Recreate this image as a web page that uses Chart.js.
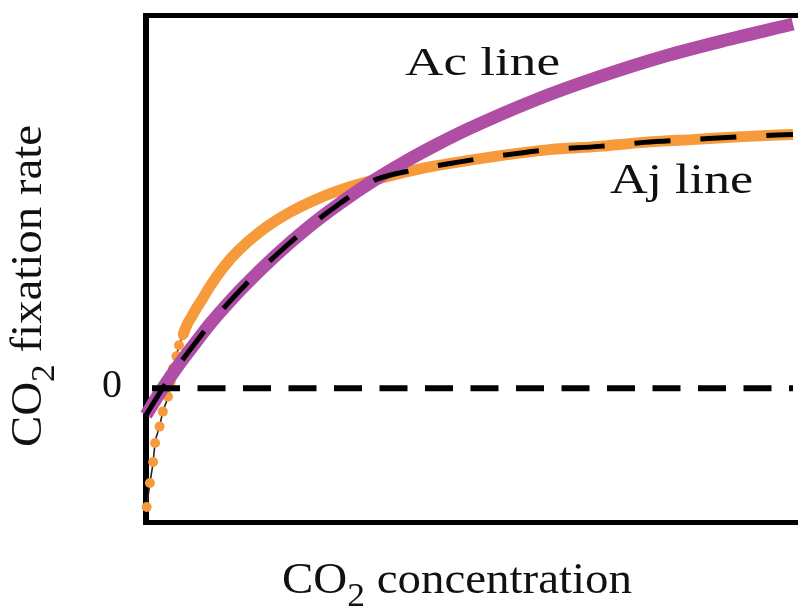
<!DOCTYPE html>
<html>
<head>
<meta charset="utf-8">
<script src="https://cdn.jsdelivr.net/npm/chart.js@4.4.1/dist/chart.umd.min.js"></script>
<style>
  html, body { margin: 0; padding: 0; background: #fff; }
  #chart { display: block; }
</style>
</head>
<body>
<canvas id="chart" width="798" height="608"></canvas>
<script>
// Ac line (Rubisco limited)
const acX = [0, 2, 4, 6, 8, 10, 12, 15, 20, 25, 30, 35, 40, 45, 50, 60, 70, 80, 90, 100];
const acY = [-5.4, -1.2, 2.7, 6.3, 9.7, 13.0, 16.0, 20.2, 26.5, 32.1, 37.0, 41.4, 45.3, 48.8, 52.0, 57.6, 62.3, 66.4, 69.8, 72.9];

// Aj line (RuBP regeneration limited), first points are the separate dots
const ajX = [0.1, 0.6, 1.1, 1.4, 2.1, 2.6, 3.4, 3.8, 4.2, 4.7, 5.1, 5.7, 6.3, 7.1, 7.8, 8.7,
             9.8, 12.1, 14.4, 17.5, 22.1, 26.7, 31.3, 35.6, 42, 48, 54, 62, 70, 77, 85, 93, 100];
const ajY = [-23.8, -19.0, -14.8, -11.0, -7.7, -4.7, -1.7, 1.2, 4.0, 6.4, 8.6, 10.6, 12.6, 14.4, 16.0, 17.8,
             20.2, 24.4, 27.7, 31.2, 35.1, 38.0, 40.2, 41.8, 43.8, 45.2, 46.4, 47.7, 48.4, 49.2, 49.8, 50.4, 50.8];
const dotCount = 16;     // Aj points drawn as single dots
const bandFrom = 11;     // from this point on the dots run together into a band
const crossX = 35.6;     // where Ac and Aj meet

const xRange = [0, 100];
const yRange = [-26.8, 74.7];
const yTicks = [0];

const purple = '#b04ea6';
const orange = '#f69a3b';

const pts = (xs, ys) => xs.map((x, i) => ({ x: x, y: ys[i] }));

// the dashed line follows the lower of the two curves
const minLine = pts(acX, acY).filter(p => p.x < crossX)
  .concat(pts(ajX, ajY).filter(p => p.x >= crossX));

const serif = '"Liberation Serif", "DejaVu Serif", serif';

function stretchText(ctx, str, x, y, size, width) {
  ctx.font = size + 'px ' + serif;
  const w = ctx.measureText(str).width;
  ctx.save();
  ctx.translate(x, y);
  ctx.scale(width / w, 1);
  ctx.fillText(str, 0, 0);
  ctx.restore();
}

// "CO2 ..." with a lowered 2, drawn from (0,0) on the baseline, stretched to width
function co2Label(ctx, rest, width) {
  const big = '45px ' + serif, small = '34px ' + serif;
  ctx.font = big;
  const wCO = ctx.measureText('CO').width;
  const wRest = ctx.measureText(rest).width;
  ctx.font = small;
  const w2 = ctx.measureText('2').width;
  const sx = width / (wCO + w2 + wRest);
  ctx.save();
  ctx.scale(sx, 1);
  ctx.font = big;
  ctx.fillText('CO', 0, 0);
  ctx.font = small;
  ctx.fillText('2', wCO, 13);
  ctx.font = big;
  ctx.fillText(rest, wCO + w2, 0);
  ctx.restore();
}

const framePlugin = {
  id: 'frame',
  beforeDatasetsDraw(chart) {
    const { ctx, chartArea: a } = chart;
    ctx.save();
    ctx.strokeStyle = '#000';
    ctx.lineWidth = 5;
    ctx.beginPath();
    ctx.moveTo(a.left - 3, a.top + 0.5);
    ctx.lineTo(a.right + 5, a.top + 0.5);
    ctx.moveTo(a.left - 3, a.bottom + 0.5);
    ctx.lineTo(a.right + 5, a.bottom + 0.5);
    ctx.stroke();
    ctx.lineWidth = 6;
    ctx.beginPath();
    ctx.moveTo(a.left, a.top - 2);
    ctx.lineTo(a.left, a.bottom + 3);
    ctx.stroke();
    ctx.restore();
  },
  afterDraw(chart) {
    const { ctx, scales } = chart;
    ctx.save();
    ctx.fillStyle = '#111';
    ctx.textBaseline = 'alphabetic';
    ctx.textAlign = 'left';

    stretchText(ctx, 'Ac line', 405, 75, 41, 155);
    stretchText(ctx, 'Aj line', 610, 193, 42, 143);

    // y tick label
    ctx.font = '40px ' + serif;
    ctx.textAlign = 'right';
    yTicks.forEach(t => {
      ctx.fillText(String(t), 122, scales.y.getPixelForValue(t) + 9);
    });
    ctx.textAlign = 'left';

    ctx.save();
    ctx.translate(282, 593);
    co2Label(ctx, ' concentration', 350);
    ctx.restore();

    ctx.save();
    ctx.translate(41, 447);
    ctx.rotate(-Math.PI / 2);
    co2Label(ctx, ' fixation rate', 322);
    ctx.restore();

    ctx.restore();
  }
};

new Chart(document.getElementById('chart'), {
  type: 'line',
  data: {
    datasets: [
      {
        label: 'min',
        data: minLine,
        borderColor: '#000',
        borderWidth: 5,
        borderDash: [36, 30],
        pointRadius: 0,
        cubicInterpolationMode: 'monotone',
        clip: false,
        order: 0
      },
      {
        label: 'zero',
        data: [{ x: xRange[0], y: 0 }, { x: xRange[1], y: 0 }],
        borderColor: '#000',
        borderWidth: 6,
        borderDash: [28, 17.5],
        borderDashOffset: 39.5,
        pointRadius: 0,
        clip: false,
        order: 1
      },
      {
        label: 'Ac line',
        data: pts(acX, acY),
        borderColor: purple,
        borderWidth: 13,
        pointRadius: 0,
        cubicInterpolationMode: 'monotone',
        clip: false,
        order: 2
      },
      {
        label: 'Aj line',
        data: pts(ajX, ajY),
        borderColor: orange,
        borderWidth: 11,
        pointRadius: ctx => ctx.dataIndex < dotCount ? 5 : 0,
        pointBackgroundColor: orange,
        pointBorderWidth: 0,
        cubicInterpolationMode: 'monotone',
        clip: false,
        order: 3,
        segment: {
          borderColor: ctx => ctx.p0DataIndex < bandFrom ? '#222' : orange,
          borderWidth: ctx => ctx.p0DataIndex < bandFrom ? 1.6 : 11
        }
      }
    ]
  },
  options: {
    responsive: false,
    animation: false,
    devicePixelRatio: 1,
    layout: { padding: { left: 146, top: 15, right: 0, bottom: 86 } },
    plugins: { legend: { display: false }, tooltip: { enabled: false } },
    scales: {
      x: { type: 'linear', min: xRange[0], max: xRange[1], display: false },
      y: { min: yRange[0], max: yRange[1], display: false }
    }
  },
  plugins: [framePlugin]
});
</script>
</body>
</html>
